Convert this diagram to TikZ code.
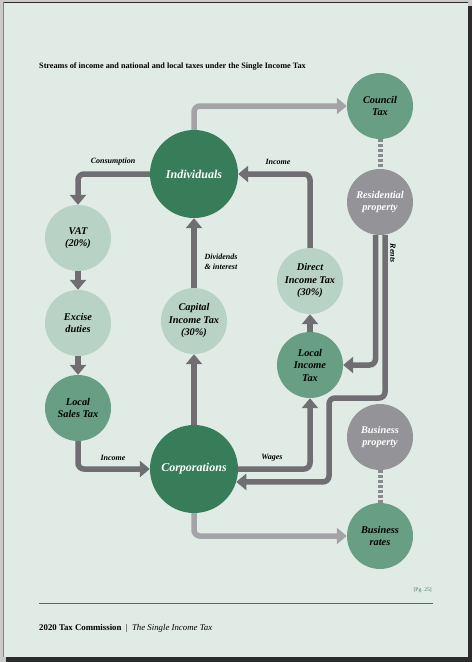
\documentclass[tikz,border=0pt]{standalone}
\usepackage{fontspec}
\setmainfont{Liberation Serif}
\usetikzlibrary{arrows.meta}
\definecolor{pagebg}{HTML}{E1EBE5}
\definecolor{outerbg}{HTML}{CACACA}
\definecolor{shadowc}{HTML}{2B2B2B}
\definecolor{dkgreen}{HTML}{377D5A}
\definecolor{mdgreen}{HTML}{679E84}
\definecolor{ltgreen}{HTML}{B8D2C5}
\definecolor{grcirc}{HTML}{939398}
\definecolor{dkarrow}{HTML}{6E6E73}
\definecolor{ltarrow}{HTML}{A4A4A8}
\definecolor{dotc}{HTML}{8A8A8E}
\begin{document}
\begin{tikzpicture}[x=1pt,y=-1pt,
  circ/.style={circle,inner sep=0pt,minimum size=66pt,align=center,font=\fontsize{10.3}{12.5}\selectfont\bfseries\itshape},
  bigcirc/.style={circle,inner sep=0pt,minimum size=88pt,fill=dkgreen,text=white,font=\fontsize{12}{14}\selectfont\bfseries\itshape},
  light/.style={circ,fill=ltgreen,text=black},
  medium/.style={circ,fill=mdgreen,text=black},
  grey/.style={circ,fill=grcirc,text=white},
  darr/.style={draw=dkarrow,line width=5.5pt,rounded corners=6pt,-{Triangle[width=16pt,length=10pt]}},
  larr/.style={draw=ltarrow,line width=5.5pt,rounded corners=6pt,-{Triangle[width=16pt,length=10pt]}},
  dotline/.style={draw=dotc,line width=5pt,dash pattern=on 3pt off 2pt},
  lbl/.style={font=\fontsize{8}{9.5}\selectfont\bfseries\itshape,inner sep=0pt,align=center}
]
\useasboundingbox (0,0) rectangle (472,662);
% page frame
\fill[outerbg] (0,0) rectangle (472,662);
\fill[shadowc] (6,6) rectangle (472,662);
\fill[pagebg] (3,2) rectangle (468,657);
\draw[shadowc,line width=1.2pt] (3,2.6) -- (468,2.6);
\draw[gray,line width=0.8pt] (3.4,2) -- (3.4,657);

% title
\node[anchor=west,inner sep=0pt,font=\fontsize{8.2}{9.5}\selectfont\bfseries] (title) at (39,67) {Streams of income and national and local taxes under the Single Income Tax};

% circles
\node[bigcirc] (ind) at (194,174) {Individuals};
\node[bigcirc] (corp) at (194,469) {Corporations};
\node[light] (vat) at (78,238) {VAT\\(20\%)};
\node[light] (exc) at (78,323) {Excise\\duties};
\node[medium] (lst) at (78,408) {Local\\Sales Tax};
\node[light] (cit) at (194,321) {Capital\\Income Tax\\(30\%)};
\node[medium] (council) at (380,106) {Council\\Tax};
\node[grey] (res) at (380,202) {Residential\\property};
\node[light] (dit) at (310,281) {Direct\\Income Tax\\(30\%)};
\node[medium] (lit) at (310,365) {Local\\Income\\Tax};
\node[grey] (bprop) at (380,437) {Business\\property};
\node[medium] (brates) at (380,536) {Business\\rates};

\coordinate (rj1) at (329,398);

% connectors
\draw[larr] (ind.north) |- (council.west);
\draw[darr] (ind.west) -| (vat.north);
\draw[darr] (vat.south) -- (exc.north);
\draw[darr] (exc.south) -- (lst.north);
\draw[darr] (lst.south) |- (corp.west);
\draw[darr] (corp.north) -- (cit.south);
\draw[darr] (cit.north) -- (ind.south);
\draw[darr] (corp.east) -| (lit.south);
\draw[darr] (lit.north) -- (dit.south);
\draw[darr] (dit.north) |- (ind.east);
\draw[darr] ([xshift=-4.5pt]res.south) |- (lit.east);
\draw[darr] ([xshift=5pt]res.south) |- (rj1) |- (corp.-17);
\draw[larr] (corp.south) |- (brates.west);
\draw[dotline] (council.south) -- (res.north);
\draw[dotline] (bprop.south) -- (brates.north);

% labels
\node[lbl] (lcons) at (113,162) {Consumption};
\node[lbl] (linc1) at (278,162) {Income};
\node[lbl] (ldiv) at (221,262) {Dividends\\\&~interest};
\node[lbl] (linc2) at (113,458) {Income};
\node[lbl] (lwag) at (272,458) {Wages};
\node[lbl,rotate=-90] (lrent) at (393,253) {Rents};

% footer
\node[anchor=east,inner sep=0pt,font=\fontsize{5.5}{6.5}\selectfont,text=dkgreen] (pg) at (432,590) {[Pg. 25]};
\draw[dkgreen,line width=0.8pt] (39,603) -- (433,603);
\node[anchor=west,inner sep=0pt,font=\fontsize{8.8}{10}\selectfont] (foot) at (39,628) {\textbf{2020 Tax Commission}\enspace|\enspace\textit{The Single Income Tax}};
\end{tikzpicture}
\end{document}
